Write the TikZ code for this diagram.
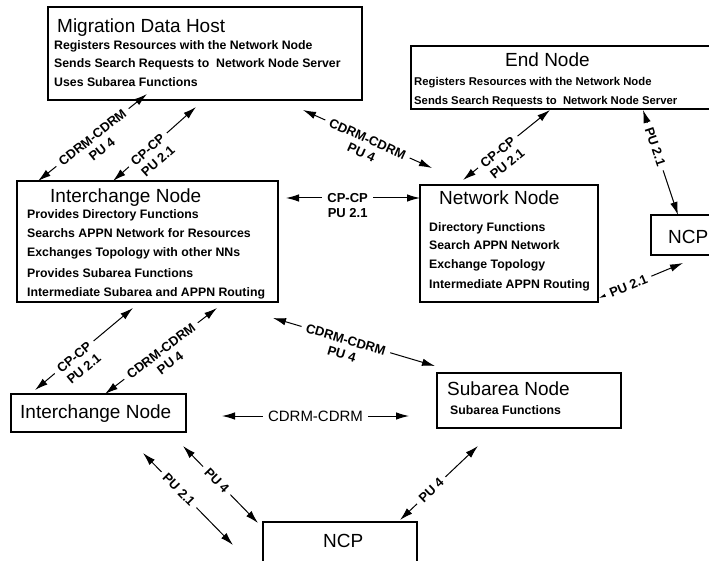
\documentclass[tikz,border=0pt]{standalone}
\usepackage{fontspec}
\setmainfont{Liberation Sans}
\usetikzlibrary{arrows.meta}

\tikzset{
  box/.style={draw, line width=1.2pt, inner sep=0pt},
  title/.style={font=\fontsize{19}{22}\selectfont, inner sep=0pt, anchor=base west},
  body/.style={font=\bfseries\fontsize{12.3}{14}\selectfont, inner sep=0pt, anchor=base west},
  smallbody/.style={body, font=\bfseries\fontsize{11.3}{13}\selectfont},
  link/.style={line width=1pt, {Latex[length=13pt,width=7.5pt]}-{Latex[length=13pt,width=7.5pt]}},
  lbl/.style={sloped, fill=white, inner xsep=5pt, inner ysep=1pt, font=\bfseries\fontsize{13}{15}\selectfont},
  lbltwo/.style={sloped, below=9pt, inner sep=1pt, font=\bfseries\fontsize{13}{15}\selectfont},
  biglbl/.style={lbl, font=\fontsize{15}{17}\selectfont},
}

\begin{document}
\begin{tikzpicture}[x=1pt, y=-1pt]
\clip (0,0) rectangle (709,561);

% boxes
\node[box, minimum width=314pt, minimum height=93pt]  (mdh)  at (205,53.5)  {};
\node[box, minimum width=311pt, minimum height=63pt]  (en)   at (566.5,77.5) {};
\node[box, minimum width=261pt, minimum height=121pt] (inb)  at (147.5,241.5) {};
\node[box, minimum width=178pt, minimum height=117pt] (nn)   at (509,243.5) {};
\node[box, minimum width=74pt,  minimum height=40pt]  (ncpr) at (688,235)   {};
\node[box, minimum width=175pt, minimum height=38pt]  (ins)  at (98.5,413)  {};
\node[box, minimum width=184pt, minimum height=55pt]  (sub)  at (529,400.5) {};
\node[box, minimum width=154pt, minimum height=58pt]  (ncpb) at (340,551)   {};

% texts
\node[title] (mdhT) at (57,33) {Migration Data Host};
\node[body] (mdh1) at (54,50) {Registers Resources with the Network Node};
\node[body] (mdh2) at (54,68) {Sends Search Requests to \ Network Node Server};
\node[body] (mdh3) at (54,87) {Uses Subarea Functions};

\node[title] (enT) at (505,67) {End Node};
\node[smallbody] (en1) at (414,86) {Registers Resources with the Network Node};
\node[smallbody] (en2) at (414,105) {Sends Search Requests to \ Network Node Server};

\node[title] (inbT) at (50,203) {Interchange Node};
\node[body] (inb1) at (27,219) {Provides Directory Functions};
\node[body] (inb2) at (27,238) {Searchs APPN Network for Resources};
\node[body] (inb3) at (27,257) {Exchanges Topology with other NNs};
\node[body] (inb4) at (27,277) {Provides Subarea Functions};
\node[body] (inb5) at (27,296) {Intermediate Subarea and APPN Routing};

\node[title] (nnT) at (439,205) {Network Node};
\node[body] (nn1) at (429,232) {Directory Functions};
\node[body] (nn2) at (429,250) {Search APPN Network};
\node[body] (nn3) at (429,269) {Exchange Topology};
\node[body] (nn4) at (429,288) {Intermediate APPN Routing};

\node[title] (ncprT) at (668,244) {NCP};
\node[title] (insT) at (20,418) {Interchange Node};
\node[title] (subT) at (447,395) {Subarea Node};
\node[body] (sub1) at (450,414) {Subarea Functions};
\node[title] (ncpbT) at (323,547) {NCP};

% arrow ends
\coordinate (a1) at (38,181);   \coordinate (b1) at (147,94);
\coordinate (a2) at (113,181);  \coordinate (b2) at (196,107);
\coordinate (a3) at (303,110);  \coordinate (b3) at (432,168);
\coordinate (a4) at (463,180);  \coordinate (b4) at (550,110);
\coordinate (a5) at (643,110);  \coordinate (b5) at (678,215);
\coordinate (a6) at (599,298);  \coordinate (b6) at (683,263);
\coordinate (a7) at (286,198);  \coordinate (b7) at (420,198);
\coordinate (a8) at (35,390);   \coordinate (b8) at (133,308);
\coordinate (a9) at (105,394);  \coordinate (b9) at (217,308);
\coordinate (a10) at (273,318); \coordinate (b10) at (435,366);
\coordinate (a11) at (222,416); \coordinate (b11) at (409,416);
\coordinate (a12) at (143,453); \coordinate (b12) at (233,545);
\coordinate (a13) at (183,446); \coordinate (b13) at (258,523);
\coordinate (a14) at (400,520); \coordinate (b14) at (478,446);

% connectors
\draw[link] (a1) -- node[lbl, pos=.5]{CDRM-CDRM} node[lbltwo, pos=.5]{PU 4} (b1);
\draw[link] (a2) -- node[lbl, pos=.42]{CP-CP} node[lbltwo, pos=.42]{PU 2.1} (b2);
\draw[link] (a3) -- node[lbl, pos=.5]{CDRM-CDRM} node[lbltwo, pos=.5]{PU 4} (b3);
\draw[link] (a4) -- node[lbl, pos=.4]{CP-CP} node[lbltwo, pos=.4]{PU 2.1} (b4);
\draw[link] (a5) -- node[lbl, pos=.35]{PU 2.1} (b5);
\draw[link] (a6) -- node[lbl, pos=.35]{PU 2.1} (b6);
\draw[link] (a7) -- node[lbl, pos=.46]{CP-CP} node[lbltwo, pos=.46]{PU 2.1} (b7);
\draw[link] (a8) -- node[lbl, pos=.4]{CP-CP} node[lbltwo, pos=.4]{PU 2.1} (b8);
\draw[link] (a9) -- node[lbl, pos=.5]{CDRM-CDRM} node[lbltwo, pos=.5]{PU 4} (b9);
\draw[link] (a10) -- node[lbl, pos=.45]{CDRM-CDRM} node[lbltwo, pos=.45]{PU 4} (b10);
\draw[link] (a11) -- node[biglbl, pos=.5]{CDRM-CDRM} (b11);
\draw[link] (a12) -- node[lbl, pos=.4]{PU 2.1} (b12);
\draw[link] (a13) -- node[lbl, pos=.45]{PU 4} (b13);
\draw[link] (a14) -- node[lbl, pos=.4]{PU 4} (b14);
\end{tikzpicture}
\end{document}
